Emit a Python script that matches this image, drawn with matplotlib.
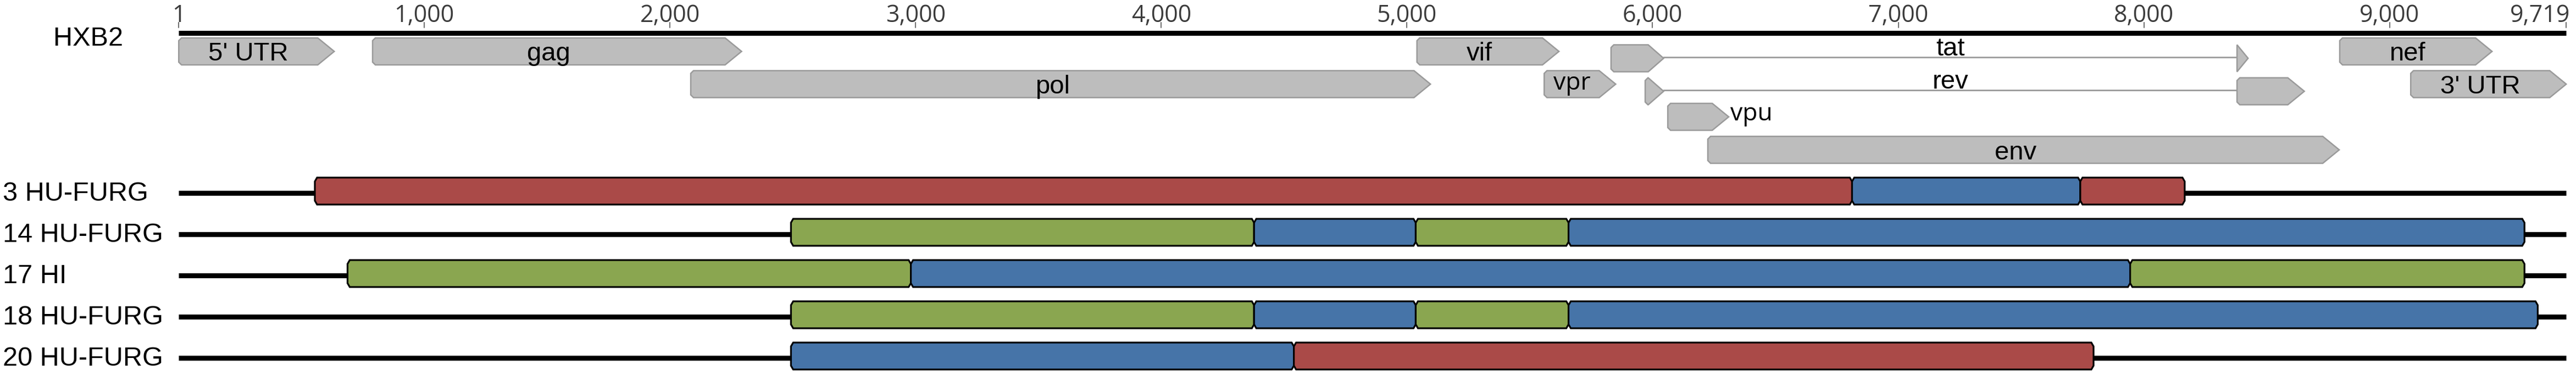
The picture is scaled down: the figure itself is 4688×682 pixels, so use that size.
import matplotlib.pyplot as plt
from matplotlib.patches import Polygon

# HXB2 reference annotation (nucleotide positions)
genome_len = 9719
gene_names = ["5' UTR", "gag", "pol", "vif", "vpr", "vpu", "env", "nef", "3' UTR"]
gene_starts = [1, 790, 2085, 5041, 5559, 6062, 6225, 8797, 9086]
gene_ends = [634, 2292, 5096, 5619, 5850, 6310, 8795, 9417, 9719]

# spliced genes, two exons each
tat_exons = [(5831, 6045), (8379, 8424)]
rev_exons = [(5970, 6045), (8379, 8653)]

tick_positions = [1, 1000, 2000, 3000, 4000, 5000, 6000, 7000, 8000, 9000, 9719]

# recombinant samples: segment breakpoints and segment class
sample_names = ["3 HU-FURG", "14 HU-FURG", "17 HI", "18 HU-FURG", "20 HU-FURG"]
sample_breaks = [
    [555, 6812, 7741, 8166],
    [2493, 4378, 5036, 5658, 9549],
    [688, 2981, 7944, 9549],
    [2493, 4378, 5036, 5658, 9603],
    [2493, 4540, 7795],
]
sample_types = [
    ["red", "blue", "red"],
    ["green", "blue", "green", "blue"],
    ["green", "blue", "green"],
    ["green", "blue", "green", "blue"],
    ["blue", "red"],
]

# ---- styling / layout ----
W, H, DPI = 4688, 682, 100
PXBP = 0.4471          # pixels per nucleotide
X0_PX = 325.3          # pixel position of nucleotide 1
seg_colors = {"red": "#AA4A48", "green": "#8AA650", "blue": "#4674A8"}
gene_fill, gene_edge = "#bdbdbd", "#9a9a9a"
label_font = "Liberation Sans"
tick_font = "Open Sans"

gene_row = {"5' UTR": 93.5, "gag": 93.5, "vif": 93.5, "nef": 93.5,
            "pol": 153, "vpr": 153, "3' UTR": 153,
            "vpu": 212.5, "env": 272.5}
tat_y, rev_y = 106, 166
gene_h = 49
sample_y0, sample_dy, bar_h = 347.5, 75, 49

fig = plt.figure(figsize=(W / DPI, H / DPI), dpi=DPI)
ax = fig.add_axes([0, 0, 1, 1])
ax.set_xlim(1 - X0_PX / PXBP, 1 + (W - X0_PX) / PXBP)
ax.set_ylim(H, 0)
ax.axis("off")


def px(n):
    """pixel distance -> nucleotides"""
    return n / PXBP


def arrow(x0, x1, yc, tip=30, cut=5):
    top, bot = yc - gene_h / 2, yc + gene_h / 2
    w = (x1 - x0) * PXBP
    if w <= tip + 4:
        pts = [(x0, top), (x1, yc), (x0, bot)]
    else:
        pts = [(x0, top + cut), (x0 + px(cut), top), (x1 - px(tip), top),
               (x1, yc), (x1 - px(tip), bot), (x0 + px(cut), bot),
               (x0, bot - cut)]
    ax.add_patch(Polygon(pts, closed=True, facecolor=gene_fill,
                         edgecolor=gene_edge, lw=1.8, zorder=3))


def bar(x0, x1, yc, color, cx=4, cy=7):
    top, bot = yc - bar_h / 2, yc + bar_h / 2
    pts = [(x0, top + cy), (x0 + px(cx), top), (x1 - px(cx), top),
           (x1, top + cy), (x1, bot - cy), (x1 - px(cx), bot),
           (x0 + px(cx), bot), (x0, bot - cy)]
    ax.add_patch(Polygon(pts, closed=True, facecolor=color,
                         edgecolor="black", lw=2.3, zorder=3))


# reference axis
ax.plot([1, genome_len], [59.5, 59.5], color="black", lw=6.5,
        solid_capstyle="butt", zorder=2)
for t in tick_positions:
    ax.plot([t, t], [41, 50], color="#555555", lw=1.2, zorder=2)
    ha = "right" if t == genome_len else "center"
    xt = t + px(7) if t == genome_len else t
    ax.text(xt, 40, f"{t:,}", ha=ha, va="baseline", fontsize=31,
            family=tick_font, color="#3c3c3c")
ax.text(97 / PXBP + ax.get_xlim()[0], 83, "HXB2", ha="left", va="baseline",
        fontsize=35, family=label_font, color="black")

# genes
for name, s, e in zip(gene_names, gene_starts, gene_ends):
    yc = gene_row[name]
    arrow(s, e, yc)
    if name == "vpu":
        ax.text(e + px(3), yc + 7, name, ha="left", va="baseline",
                fontsize=32, family=tick_font)
    elif name == "vpr":
        ax.text((s + e - px(30)) / 2, yc + 10, name, ha="center",
                va="baseline", fontsize=32, family=tick_font, zorder=4)
    else:
        ax.text((s + e - px(30)) / 2, yc + 17, name, ha="center",
                va="baseline", fontsize=34, family=label_font, zorder=4)

for name, exons, yc in [("tat", tat_exons, tat_y), ("rev", rev_exons, rev_y)]:
    (s1, e1), (s2, e2) = exons
    arrow(s1, e1, yc, tip=28)
    arrow(s2, e2, yc)
    ax.plot([e1, s2], [yc - 2, yc - 2], color=gene_edge, lw=2, zorder=2)
    ax.text((e1 + s2) / 2, yc - 5, name, ha="center", va="baseline",
            fontsize=34, family=label_font)

# samples
for i, (name, brk, typ) in enumerate(zip(sample_names, sample_breaks,
                                         sample_types)):
    yc = sample_y0 + i * sample_dy
    ax.plot([1, genome_len], [yc + 3, yc + 3], color="black", lw=6.5,
            solid_capstyle="butt", zorder=1)
    for s, e, t in zip(brk[:-1], brk[1:], typ):
        bar(s, e, yc, seg_colors[t])
    ax.text(ax.get_xlim()[0] + px(5), yc + 17.5, name, ha="left",
            va="baseline", fontsize=35, family=label_font)

fig.savefig("out.png", dpi=DPI)
